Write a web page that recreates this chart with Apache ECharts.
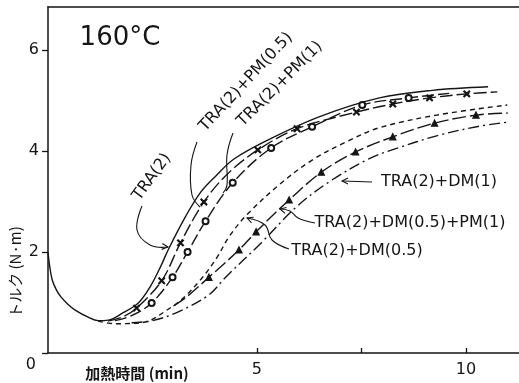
<!DOCTYPE html>
<html><head><meta charset="utf-8">
<script src="https://cdn.jsdelivr.net/npm/echarts@6/dist/echarts.min.js"></script>
<style>html,body{margin:0;padding:0;background:#fff}#c{width:519px;height:383px}</style>
</head><body><div id="c"></div>
<script>
// ---- data (time in min, torque in N·m) ----
const xTicks = [5, 7.5, 10];
const xTickLabels = [5, 10];
const yTicks = [0, 2, 4, 6];

// TRA(2) (solid, includes common initial part)
const tra2Time   = [0, 0.04, 0.1, 0.2, 0.31, 0.48, 0.65, 0.96, 1.2, 1.44, 1.8, 2.16, 2.45, 2.7, 2.88, 3.29, 3.65, 4.01, 4.45, 5.22, 6.5, 7.93, 9.2, 10.53];
const tra2Torque = [2.0, 1.72, 1.45, 1.25, 1.11, 0.96, 0.85, 0.71, 0.64, 0.65, 0.8, 0.99, 1.32, 1.72, 2.05, 2.7, 3.18, 3.5, 3.84, 4.2, 4.68, 5.05, 5.2, 5.27];

// TRA(2)+PM(0.5) (x markers)
const pm05Time   = [1.44, 1.8, 2.12, 2.72, 3.17, 3.73, 4.3, 5.02, 5.96, 7.38, 8.25, 9.13, 10.02, 10.75];
const pm05Torque = [0.63, 0.72, 0.89, 1.43, 2.18, 2.99, 3.55, 4.02, 4.44, 4.77, 4.93, 5.05, 5.13, 5.17];
const pm05Mark   = [0, 0, 1, 1, 1, 1, 0, 1, 1, 1, 1, 1, 1, 0];

// TRA(2)+PM(1) (circles)
const pm1Time   = [1.6, 2.0, 2.48, 2.98, 3.34, 3.77, 4.42, 5.34, 6.32, 7.52, 8.63, 9.6];
const pm1Torque = [0.64, 0.74, 0.99, 1.50, 2.00, 2.61, 3.37, 4.06, 4.48, 4.91, 5.05, 5.14];
const pm1Mark   = [0, 0, 1, 1, 1, 1, 1, 1, 1, 1, 1, 0];

// TRA(2)+DM(0.5) (short dashes)
const dm05Time   = [1.2, 1.6, 2.24, 2.96, 3.29, 3.68, 4.05, 4.33, 4.74, 5.53, 6.32, 7.14, 7.93, 9.3, 10.99];
const dm05Torque = [0.63, 0.58, 0.6, 0.91, 1.13, 1.48, 1.9, 2.3, 2.72, 3.33, 3.82, 4.18, 4.46, 4.71, 4.91];

// TRA(2)+DM(0.5)+PM(1) (triangles)
const dm05pm1Time   = [3.0, 3.3, 3.85, 4.57, 4.98, 5.77, 6.54, 7.36, 8.25, 9.25, 10.24, 11.0];
const dm05pm1Torque = [0.93, 1.1, 1.5, 2.04, 2.4, 3.03, 3.58, 3.98, 4.28, 4.55, 4.71, 4.75];
const dm05pm1Mark   = [0, 0, 1, 1, 1, 1, 1, 1, 1, 1, 1, 0];

// TRA(2)+DM(1) (dash-dot)
const dm1Time   = [2.0, 2.5, 3.13, 3.85, 4.25, 5.1, 5.94, 6.73, 7.69, 8.34, 9.3, 10.26, 11.0];
const dm1Torque = [0.6, 0.64, 0.82, 1.15, 1.5, 2.18, 2.89, 3.39, 3.85, 4.05, 4.3, 4.48, 4.57];

const seriesNames = ['TRA(2)', 'TRA(2)+PM(0.5)', 'TRA(2)+PM(1)', 'TRA(2)+DM(0.5)', 'TRA(2)+DM(0.5)+PM(1)', 'TRA(2)+DM(1)'];

// ---- chart ----
const INK = '#151515';
const CROSS = 'path://M0,1L1,0L5,4L9,0L10,1L6,5L10,9L9,10L5,6L1,10L0,9L4,5Z';
function build(t, y, mark, sym) {
  return t.map((v, i) => ({ value: [v, y[i]], symbol: (mark && mark[i]) ? sym : 'none' }));
}
function lineSeries(name, data, dash, size) {
  return {
    name, type: 'line', data, smooth: 0.35, showSymbol: true, symbolSize: size || 7,
    lineStyle: { color: INK, width: 1.4, type: dash },
    itemStyle: { color: INK, borderColor: INK, borderWidth: 1.3 },
    emphasis: { disabled: true }, animation: false, z: 3
  };
}

const chart = echarts.init(document.getElementById('c'), null, { renderer: 'canvas' });
const FONT = 'DejaVu Sans';
const axisCommon = { min: 0, max: 11.27, type: 'value' };

const option = {
  backgroundColor: '#fff',
  animation: false,
  grid: { left: 48, right: 0, top: 7, bottom: 30, containLabel: false },
  xAxis: [
    Object.assign({}, axisCommon, {
      position: 'bottom',
      axisLine: { lineStyle: { color: INK, width: 1.5 } },
      axisTick: { inside: true, length: 5, lineStyle: { color: INK, width: 1.3 }, customValues: xTicks },
      axisLabel: { color: INK, fontSize: 16, fontFamily: FONT, margin: 9, customValues: xTickLabels },
      splitLine: { show: false }
    }),
    Object.assign({}, axisCommon, {
      position: 'top',
      axisLine: { lineStyle: { color: INK, width: 1.6 } },
      axisTick: { show: false }, axisLabel: { show: false }, splitLine: { show: false }
    })
  ],
  yAxis: {
    type: 'value', min: 0, max: 6.85,
    axisLine: { show: true, lineStyle: { color: INK, width: 1.5 } },
    axisTick: { show: true, length: 6, lineStyle: { color: INK, width: 1.3 }, customValues: yTicks },
    axisLabel: {
      color: INK, fontSize: 16, fontFamily: FONT, margin: 9, customValues: yTicks,
      formatter: v => v === 0 ? '{z|0}' : String(v),
      rich: { z: { fontSize: 16, fontFamily: FONT, color: INK, padding: [24, 3, 0, 0] } }
    },
    splitLine: { show: false }
  },
  series: [
    lineSeries(seriesNames[0], build(tra2Time, tra2Torque, null, 'none'), 'solid'),
    lineSeries(seriesNames[1], build(pm05Time, pm05Torque, pm05Mark, CROSS), [13, 4], 6),
    lineSeries(seriesNames[2], build(pm1Time, pm1Torque, pm1Mark, 'emptyCircle'), [12, 4], 6),
    lineSeries(seriesNames[3], build(dm05Time, dm05Torque, null, 'none'), [5, 4]),
    lineSeries(seriesNames[4], build(dm05pm1Time, dm05pm1Torque, dm05pm1Mark, 'triangle'), [14, 4], 6),
    lineSeries(seriesNames[5], build(dm1Time, dm1Torque, null, 'none'), [11, 4, 2, 4])
  ],
  graphic: []
};
chart.setOption(option);

// ---- text annotations ----
const txt = (x, y, text, size, rot, extra) => Object.assign({
  type: 'text', x, y, rotation: rot || 0, silent: true, z: 10,
  style: Object.assign({ text, fill: INK, font: size + 'px "' + FONT + '"', align: 'center', verticalAlign: 'middle' }, extra || {})
});
const ln = (pts) => ({ type: 'polyline', silent: true, z: 9, shape: { points: pts, smooth: 0.4 }, style: { stroke: INK, lineWidth: 1.1, fill: null } });
const arrowHead = (tip, from) => {
  const dx = tip[0] - from[0], dy = tip[1] - from[1], L = Math.hypot(dx, dy), ux = dx / L, uy = dy / L;
  const s = 6, w = 3;
  return { type: 'polyline', silent: true, z: 9, shape: { points: [[tip[0] - ux * s - uy * w, tip[1] - uy * s + ux * w], tip, [tip[0] - ux * s + uy * w, tip[1] - uy * s - ux * w]] }, style: { stroke: INK, lineWidth: 1.1, fill: null } };
};
const D = Math.PI / 180;
const g = [
  txt(120, 38, '160°C', 26, 0, { font: '26px "' + FONT + '"' }),
  txt(15, 272, 'トルク (N·m)', 15, Math.PI / 2, { font: '15px "Noto Sans CJK JP"' }),
  txt(137, 373, '加熱時間 (min)', 15, 0, { font: 'bold 15px "Noto Sans CJK JP"' }),
  txt(152, 177, seriesNames[0], 16, 54 * D),
  txt(246, 82, 'TRA(2)+PM(0.5)', 16, 47 * D),
  txt(280, 84, 'TRA(2)+PM(1)', 16, 45 * D),
  txt(439, 182, 'TRA(2)+DM(1)', 16, 0),
  txt(410, 223, 'TRA(2)+DM(0.5)+PM(1)', 16, 0),
  txt(357, 251, 'TRA(2)+DM(0.5)', 16, 0),
  ln([[142, 206], [137, 230], [150, 245], [168, 247]]), arrowHead([168, 247], [158, 246]),
  ln([[197, 142], [191, 165], [192, 195], [200, 207]]),
  ln([[233, 133], [227, 155], [227, 185], [223, 193]]),
  ln([[372, 182], [342, 181]]), arrowHead([342, 181], [352, 181]),
  ln([[315, 223], [298, 218], [290, 211], [280, 209]]), arrowHead([280, 209], [288, 211]),
  ln([[289, 249], [272, 240], [265, 225], [247, 218]]), arrowHead([247, 218], [255, 221])
];
chart.setOption({ graphic: g });
</script>
</body></html>
